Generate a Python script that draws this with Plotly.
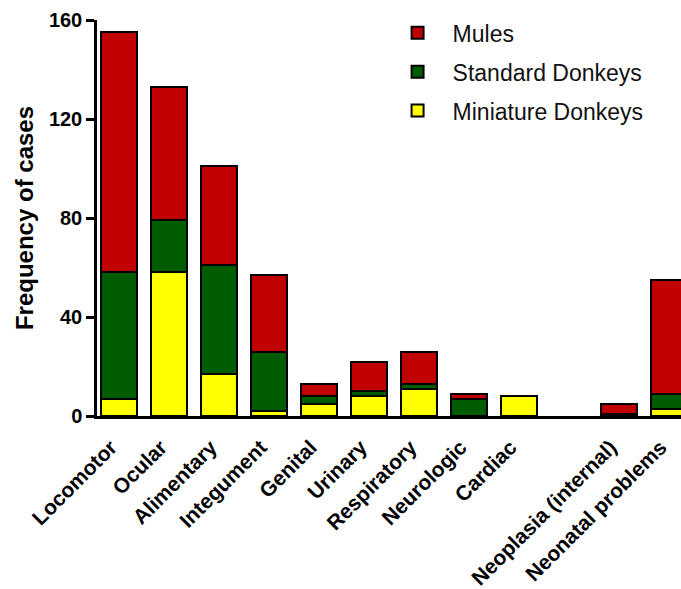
import plotly.graph_objects as go

categories = ["Locomotor", "Ocular", "Alimentary", "Integument", "Genital", "Urinary",
              "Respiratory", "Neurologic", "Cardiac", " ", "Neoplasia (internal)", "Neonatal problems"]
miniature = [7, 58, 17, 2, 5, 8, 11, 0, 8, None, 0, 3]
standard = [51, 21, 44, 24, 3, 2, 2, 7, 0, None, 1, 6]
mules = [97, 54, 40, 31, 5, 12, 13, 2, 0, None, 4, 46]
y_ticks = [0, 40, 80, 120, 160]

series = [
    ("Miniature Donkeys", miniature, "#FFFF00", 3),
    ("Standard Donkeys", standard, "#005C00", 2),
    ("Mules", mules, "#C00000", 1),
]

fig = go.Figure()
for name, vals, col, rank in series:
    fig.add_trace(go.Bar(
        x=categories, y=vals, name=name, legendgroup=name, legendrank=rank,
        marker=dict(color=col, line=dict(color="black", width=2)),
        width=0.72,
    ))

font_family = "Liberation Sans, Arial, sans-serif"
fig.update_layout(
    width=681, height=589,
    barmode="stack",
    plot_bgcolor="white", paper_bgcolor="white",
    margin=dict(l=97, r=0, t=20, b=173, autoexpand=False),
    font=dict(family=font_family, color="black"),
    legend=dict(
        x=0.489, y=1.022, xanchor="left", yanchor="top",
        traceorder="grouped", tracegroupgap=6, itemwidth=60,
        font=dict(size=23, family=font_family, color="#111111"),
        bgcolor="rgba(0,0,0,0)",
    ),
    xaxis=dict(
        range=[-0.44, 11.25],
        showline=True, linecolor="black", linewidth=2.5,
        ticks="", tickangle=-45, ticklabelstandoff=8, ticklabelshift=-8,
        tickfont=dict(size=21, family=font_family, weight="bold", color="black"),
        showgrid=False, zeroline=False,
    ),
    yaxis=dict(
        range=[0, 160], tickvals=y_ticks,
        showline=True, linecolor="black", linewidth=2.5,
        ticks="outside", ticklen=8, tickwidth=2.5, tickcolor="black",
        tickfont=dict(size=20, family=font_family, weight="bold", color="black"),
        showgrid=False, zeroline=False,
        title=dict(text="Frequency of cases", standoff=9,
                   font=dict(size=24, family=font_family, weight="bold", color="black")),
    ),
)

fig.write_html("out.html", config={"displayModeBar": False},
               post_script="document.body.style.margin='0';")
